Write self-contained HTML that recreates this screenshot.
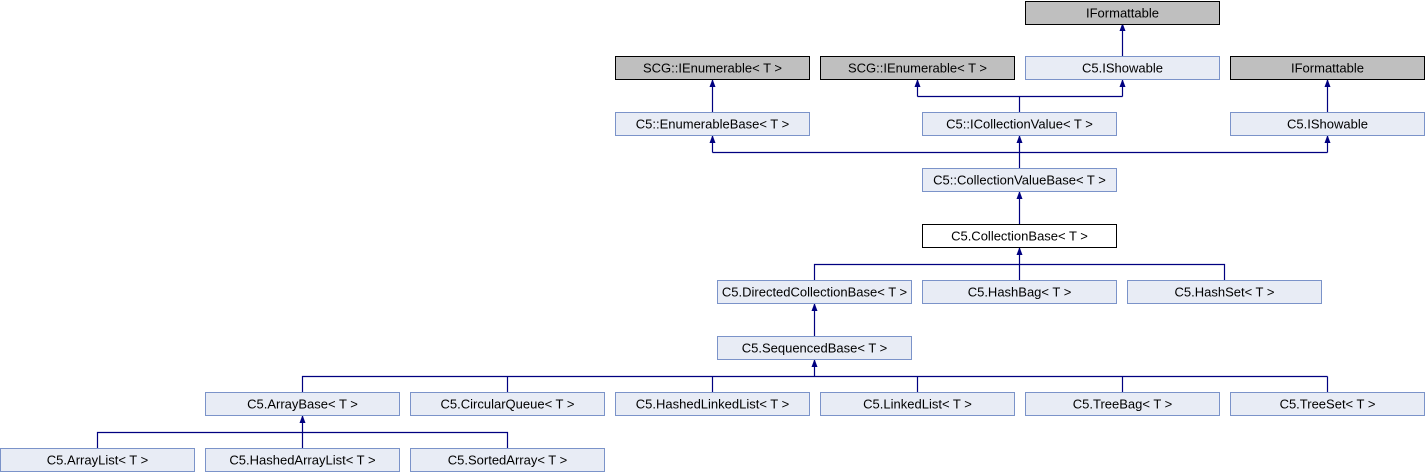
<!DOCTYPE html>
<html><head><style>body{margin:0;background:#fff}svg{display:block}</style></head><body>
<svg width="1425" height="472" xmlns="http://www.w3.org/2000/svg" font-family="Liberation Sans, Arial, sans-serif" font-size="13">
<defs><marker id="a" markerWidth="8" markerHeight="8" refX="4" refY="1" orient="0" markerUnits="userSpaceOnUse"><path d="M1,8 L4,0 L7,8 Z" fill="#000080"/></marker></defs>
<g stroke="#000080" stroke-width="1.2" fill="none">
<path d="M1122.5,56 V24" marker-end="url(#a)"/>
<path d="M712.5,112 V80" marker-end="url(#a)"/>
<path d="M1019.5,112 V96.5 M917.5,96.5 H1122.5"/>
<path d="M917.5,96.5 V80" marker-end="url(#a)"/>
<path d="M1122.5,96.5 V80" marker-end="url(#a)"/>
<path d="M1327.5,112 V80" marker-end="url(#a)"/>
<path d="M712.5,152.5 H1327.5 M1019.5,168 V152.5"/>
<path d="M712.5,152.5 V136" marker-end="url(#a)"/>
<path d="M1019.5,152.5 V136" marker-end="url(#a)"/>
<path d="M1327.5,152.5 V136" marker-end="url(#a)"/>
<path d="M1019.5,224 V192" marker-end="url(#a)"/>
<path d="M814.5,280 V264.5 H1224.5 V280 M1019.5,280 V248" marker-end="url(#a)"/>
<path d="M814.5,336 V304" marker-end="url(#a)"/>
<path d="M302.5,392 V376.5 H1327.5 M507.5,392V376.5 M712.5,392V376.5 M917.5,392V376.5 M1122.5,392V376.5 M1327.5,392V376.5"/>
<path d="M814.5,376.5 V360" marker-end="url(#a)"/>
<path d="M97.5,448 V432.5 H507.5 V448 M302.5,432.5 V448"/>
<path d="M302.5,432.5 V416" marker-end="url(#a)"/>
</g>
<g text-anchor="middle">
<g fill="#bfbfbf" stroke="#000">
<rect x="1025.5" y="1.5" width="194" height="23"/>
<rect x="615.5" y="56.5" width="194" height="23"/>
<rect x="820.5" y="56.5" width="194" height="23"/>
<rect x="1230.5" y="56.5" width="194" height="23"/>
</g>
<rect x="922.5" y="224.5" width="194" height="23" fill="#fff" stroke="#000"/>
<g fill="#e8ecf5" stroke="#7b93c9">
<rect x="1025.5" y="56.5" width="194" height="23"/>
<rect x="615.5" y="112.5" width="194" height="23"/>
<rect x="922.5" y="112.5" width="194" height="23"/>
<rect x="1230.5" y="112.5" width="194" height="23"/>
<rect x="922.5" y="168.5" width="194" height="23"/>
<rect x="717.5" y="280.5" width="194" height="23"/>
<rect x="922.5" y="280.5" width="194" height="23"/>
<rect x="1127.5" y="280.5" width="194" height="23"/>
<rect x="717.5" y="336.5" width="194" height="23"/>
<rect x="205.5" y="392.5" width="194" height="23"/>
<rect x="410.5" y="392.5" width="194" height="23"/>
<rect x="615.5" y="392.5" width="194" height="23"/>
<rect x="820.5" y="392.5" width="194" height="23"/>
<rect x="1025.5" y="392.5" width="194" height="23"/>
<rect x="1230.5" y="392.5" width="194" height="23"/>
<rect x="0.5" y="448.5" width="194" height="23"/>
<rect x="205.5" y="448.5" width="194" height="23"/>
<rect x="410.5" y="448.5" width="194" height="23"/>
</g>
<g fill="#000">
<text x="1122.5" y="17.5">IFormattable</text>
<text x="712.5" y="72.5">SCG::IEnumerable&lt; T &gt;</text>
<text x="917.5" y="72.5">SCG::IEnumerable&lt; T &gt;</text>
<text x="1122.5" y="72.5">C5.IShowable</text>
<text x="1327.5" y="72.5">IFormattable</text>
<text x="712.5" y="128.5">C5::EnumerableBase&lt; T &gt;</text>
<text x="1019.5" y="128.5">C5::ICollectionValue&lt; T &gt;</text>
<text x="1327.5" y="128.5">C5.IShowable</text>
<text x="1019.5" y="184.5">C5::CollectionValueBase&lt; T &gt;</text>
<text x="1019.5" y="240.5">C5.CollectionBase&lt; T &gt;</text>
<text x="814.5" y="296.5">C5.DirectedCollectionBase&lt; T &gt;</text>
<text x="1019.5" y="296.5">C5.HashBag&lt; T &gt;</text>
<text x="1224.5" y="296.5">C5.HashSet&lt; T &gt;</text>
<text x="814.5" y="352.5">C5.SequencedBase&lt; T &gt;</text>
<text x="302.5" y="408.5">C5.ArrayBase&lt; T &gt;</text>
<text x="507.5" y="408.5">C5.CircularQueue&lt; T &gt;</text>
<text x="712.5" y="408.5">C5.HashedLinkedList&lt; T &gt;</text>
<text x="917.5" y="408.5">C5.LinkedList&lt; T &gt;</text>
<text x="1122.5" y="408.5">C5.TreeBag&lt; T &gt;</text>
<text x="1327.5" y="408.5">C5.TreeSet&lt; T &gt;</text>
<text x="97.5" y="464.5">C5.ArrayList&lt; T &gt;</text>
<text x="302.5" y="464.5">C5.HashedArrayList&lt; T &gt;</text>
<text x="507.5" y="464.5">C5.SortedArray&lt; T &gt;</text>
</g>
</g>
</svg>
</body></html>
